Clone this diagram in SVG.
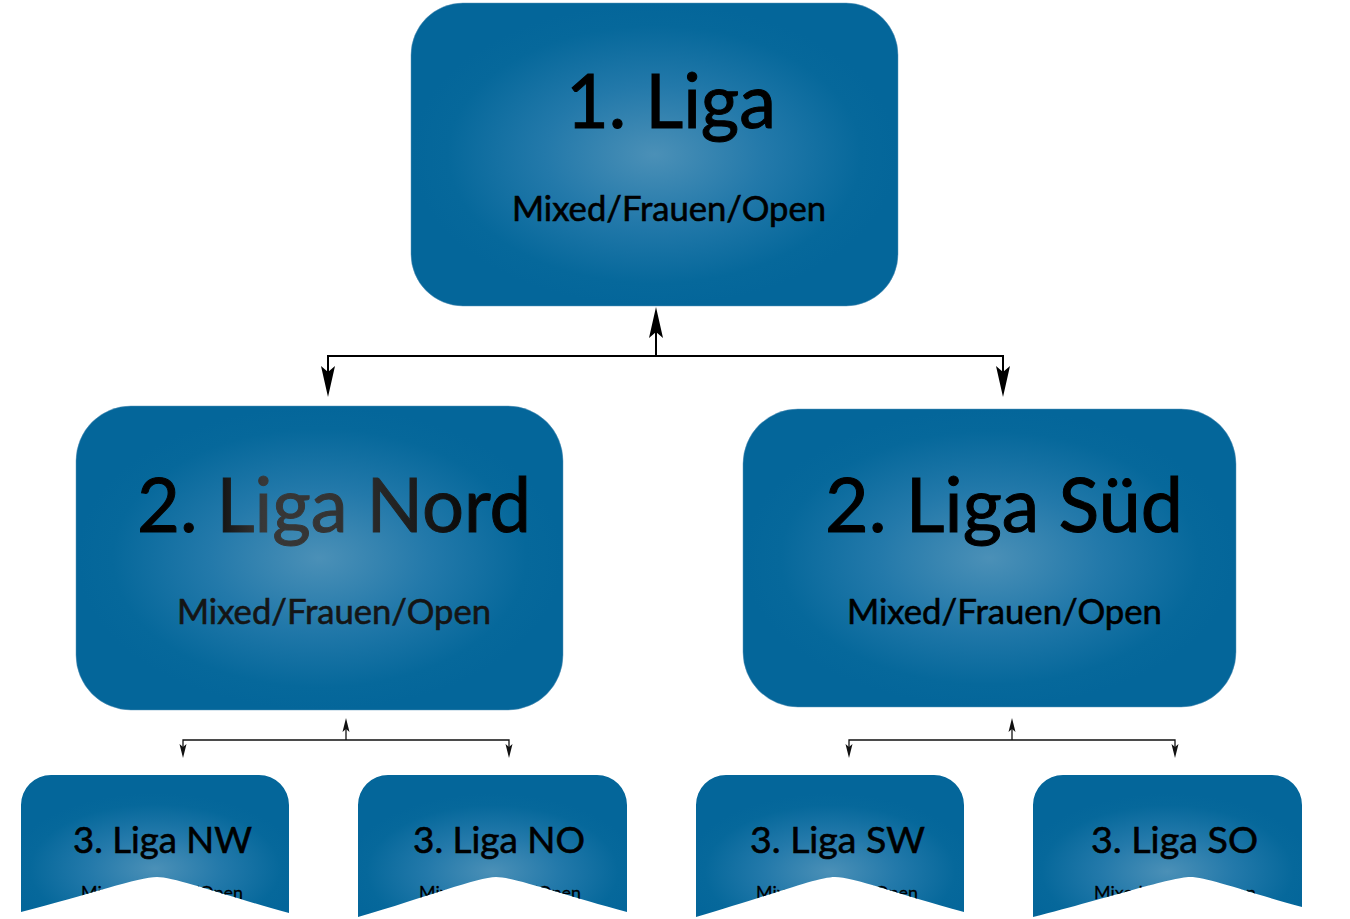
<svg xmlns="http://www.w3.org/2000/svg" xmlns:xlink="http://www.w3.org/1999/xlink" width="1350" height="919" viewBox="0 0 1350 919">
  <defs>
    <radialGradient id="gBox" cx="0.5" cy="0.5" r="0.5" fx="0.5" fy="0.5">
      <stop offset="0" stop-color="#4b90b7"/>
      <stop offset="0.45" stop-color="#2379aa"/>
      <stop offset="0.85" stop-color="#06689b"/>
      <stop offset="1" stop-color="#04669a"/>
    </radialGradient>
    <radialGradient id="gSmall" cx="0.5" cy="0.68" r="0.55" fx="0.5" fy="0.68">
      <stop offset="0" stop-color="#4b90b7"/>
      <stop offset="0.45" stop-color="#2379aa"/>
      <stop offset="0.85" stop-color="#06689b"/>
      <stop offset="1" stop-color="#04669a"/>
    </radialGradient>
    <linearGradient id="gNord" gradientUnits="userSpaceOnUse" x1="137" y1="0" x2="531" y2="0">
      <stop offset="0" stop-color="#000"/>
      <stop offset="0.17" stop-color="#050505"/>
      <stop offset="0.32" stop-color="#383838"/>
      <stop offset="0.5" stop-color="#333"/>
      <stop offset="0.66" stop-color="#222"/>
      <stop offset="0.85" stop-color="#080808"/>
      <stop offset="1" stop-color="#000"/>
    </linearGradient>
    <marker id="arrowBig" markerUnits="userSpaceOnUse" markerWidth="32" markerHeight="16" viewBox="0 -8 32 16" refX="6" refY="0" orient="auto">
      <path d="M31,0 L0,-7 L6,0 L0,7 Z" fill="#000"/>
    </marker>
    <marker id="arrowSmall" markerUnits="userSpaceOnUse" markerWidth="15" markerHeight="8" viewBox="0 -4 15 8" refX="3" refY="0" orient="auto">
      <path d="M14,0 L0,-3.5 L3,0 L0,3.5 Z" fill="#111"/>
    </marker>
    <path id="sNW" d="M21,912 V805 A30,30 0 0 1 51,775 H259 A30,30 0 0 1 289,805 V913 C223,895 175,877 157,877 C139,877 89,894.5 21,912 Z"/>
    <path id="sNO" d="M358,917 V805 A30,30 0 0 1 388,775 H597 A30,30 0 0 1 627,805 V912 C561.5,894.5 514,877 496,877 C478,877 427,897 358,917 Z"/>
    <path id="sSW" d="M696,917 V805 A30,30 0 0 1 726,775 H934 A30,30 0 0 1 964,805 V912 C899.5,894.5 853,877 835,877 C817,877 765.5,897 696,917 Z"/>
    <path id="sSO" d="M1033,917 V805 A30,30 0 0 1 1063,775 H1272 A30,30 0 0 1 1302,805 V907 C1246,892 1208,877 1190,877 C1172,877 1111.5,897 1033,917 Z"/>
    <clipPath id="cNW"><use xlink:href="#sNW"/></clipPath>
    <clipPath id="cNO"><use xlink:href="#sNO"/></clipPath>
    <clipPath id="cSW"><use xlink:href="#sSW"/></clipPath>
    <clipPath id="cSO"><use xlink:href="#sSO"/></clipPath>
  </defs>
  <style>
    .box { fill: url(#gBox); stroke: #5a94ba; stroke-width: 0.8; stroke-opacity: 0.6; }
    .small { fill: url(#gSmall); }
    text { font-family: Lato, "Open Sans", "DejaVu Sans", sans-serif; fill: #000; stroke: #000; stroke-width: 0.6; }
    .t1 { font-size: 75px; stroke-width: 1; }
    .sub { font-size: 34px; }
    .t3 { font-size: 37px; }
    .sub3 { font-size: 17.5px; stroke-width: 0.3; }
    .conBig { fill: none; stroke: #000; stroke-width: 2; marker-end: url(#arrowBig); }
    .conSmall { fill: none; stroke: #111; stroke-width: 1.3; marker-end: url(#arrowSmall); }
  </style>

  <g id="connectors">
    <path class="conBig" d="M656,356 V332"/>
    <path class="conBig" d="M656,356 H328 V372"/>
    <path class="conBig" d="M656,356 H1003 V372"/>
    <path class="conSmall" d="M346,740 V729"/>
    <path class="conSmall" d="M346,740 H183 V747"/>
    <path class="conSmall" d="M346,740 H509 V747"/>
    <path class="conSmall" d="M1012,740 V729"/>
    <path class="conSmall" d="M1012,740 H849 V747"/>
    <path class="conSmall" d="M1012,740 H1175 V747"/>
  </g>

  <g id="liga1">
    <rect class="box" x="411" y="3" width="487" height="303" rx="52" ry="52"/>
    <text class="t1" x="566" y="128" textLength="210" lengthAdjust="spacingAndGlyphs">1. Liga</text>
    <text class="sub" x="512" y="221" textLength="314" lengthAdjust="spacingAndGlyphs">Mixed/Frauen/Open</text>
  </g>

  <g id="liga2nord">
    <rect class="box" x="76" y="406" width="487" height="304" rx="55" ry="55"/>
    <text class="t1" x="137" y="532" textLength="394" lengthAdjust="spacingAndGlyphs" style="fill:url(#gNord);stroke:url(#gNord)">2. Liga Nord</text>
    <text class="sub" x="177" y="624" textLength="314" lengthAdjust="spacingAndGlyphs" style="fill:#151515;stroke:#151515">Mixed/Frauen/Open</text>
  </g>

  <g id="liga2sued">
    <rect class="box" x="743" y="409" width="493" height="298" rx="55" ry="55"/>
    <text class="t1" x="825" y="532" textLength="358" lengthAdjust="spacingAndGlyphs">2. Liga Süd</text>
    <text class="sub" x="847" y="624" textLength="315" lengthAdjust="spacingAndGlyphs">Mixed/Frauen/Open</text>
  </g>

  <g id="liga3nw">
    <use xlink:href="#sNW" class="small"/>
    <text class="t3" x="73" y="853" textLength="179" lengthAdjust="spacingAndGlyphs">3. Liga NW</text>
    <text class="sub3" x="81" y="899" textLength="162" lengthAdjust="spacingAndGlyphs" clip-path="url(#cNW)">Mixed/Frauen/Open</text>
  </g>

  <g id="liga3no">
    <use xlink:href="#sNO" class="small"/>
    <text class="t3" x="413" y="853" textLength="172" lengthAdjust="spacingAndGlyphs">3. Liga NO</text>
    <text class="sub3" x="419" y="899" textLength="162" lengthAdjust="spacingAndGlyphs" clip-path="url(#cNO)">Mixed/Frauen/Open</text>
  </g>

  <g id="liga3sw">
    <use xlink:href="#sSW" class="small"/>
    <text class="t3" x="750" y="853" textLength="175" lengthAdjust="spacingAndGlyphs">3. Liga SW</text>
    <text class="sub3" x="756" y="899" textLength="162" lengthAdjust="spacingAndGlyphs" clip-path="url(#cSW)">Mixed/Frauen/Open</text>
  </g>

  <g id="liga3so">
    <use xlink:href="#sSO" class="small"/>
    <text class="t3" x="1091" y="853" textLength="167" lengthAdjust="spacingAndGlyphs">3. Liga SO</text>
    <text class="sub3" x="1094" y="899" textLength="162" lengthAdjust="spacingAndGlyphs" clip-path="url(#cSO)">Mixed/Frauen/Open</text>
  </g>
</svg>
